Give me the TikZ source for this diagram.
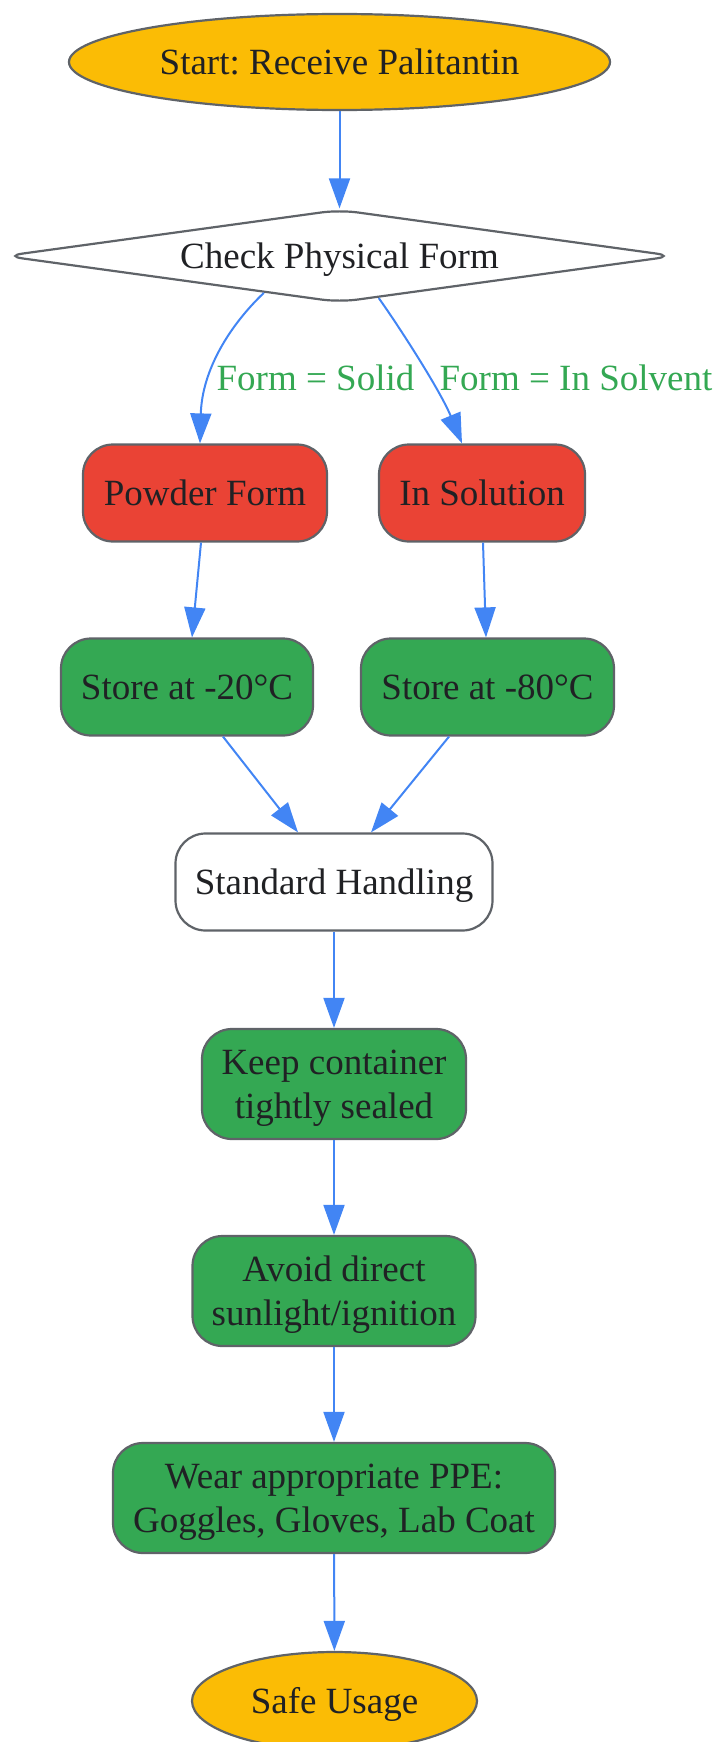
\documentclass[tikz,border=0pt]{standalone}
\usepackage{fontspec}
\setmainfont{Liberation Serif}
\usetikzlibrary{shapes.geometric,arrows.meta}
\frenchspacing

\definecolor{gold}{HTML}{FBBC05}
\definecolor{tomato}{HTML}{EA4335}
\definecolor{leaf}{HTML}{34A853}
\definecolor{sky}{HTML}{4285F4}
\definecolor{rim}{HTML}{5F6368}
\definecolor{ink}{HTML}{202124}

\begin{document}
\begin{tikzpicture}[x=1pt,y=-1pt,
  every node/.style={font=\fontsize{37}{44}\selectfont, text=ink, align=center},
  one/.style={text height=25pt, text depth=0pt},
  box/.style={draw=rim, line width=2.2pt, rounded corners=30pt, minimum height=97pt, inner sep=0pt},
  tall/.style={box, fill=leaf, minimum height=110pt, text depth=0pt},
  oval/.style={ellipse, draw=rim, line width=2.2pt, fill=gold, inner sep=0pt, one},
  flow/.style={draw=sky, line width=2pt, -{Triangle[length=30pt,width=21pt]}},
  cond/.style={text=leaf, one}]

\useasboundingbox (0,0) rectangle (717,1742);

\def\xc{334}

%Start and check
\node[oval, minimum width=541pt, minimum height=96pt] (start) at (339.5,62) {Start: Receive Palitantin};
\node[diamond, draw=rim, line width=2.2pt, fill=white, rounded corners=18pt, aspect=7.2, one,
      minimum width=670pt, minimum height=93pt, inner sep=0pt] (chk) at (339.5,256) {Check Physical Form};

%Forms
\node[box, one, fill=tomato, minimum width=244pt] (pow) at (205,493) {Powder Form};
\node[box, one, fill=tomato, minimum width=206pt] (sol) at (482,493) {In Solution};

%Storage
\node[box, one, fill=leaf, minimum width=252pt] (s20) at (187,687) {Store at -20°C};
\node[box, one, fill=leaf, minimum width=253pt] (s80) at (487.5,687) {Store at -80°C};

%Handling
\node[box, one, fill=white, minimum width=317pt] (std) at (\xc,882) {Standard Handling};
\node[tall, minimum width=264pt] (keep) at (\xc,1084) {Keep container\\tightly sealed};
\node[tall, minimum width=283pt] (avoid) at (\xc,1291) {Avoid direct\\sunlight/ignition};
\node[tall, minimum width=442pt] (ppe) at (\xc,1498) {Wear appropriate PPE:\\Goggles, Gloves, Lab Coat};
\node[oval, minimum width=285pt, minimum height=98pt] (safe) at (334.5,1701) {Safe Usage};

%Edges
\draw[flow] (start) -- (chk);
\draw[flow] (chk.206.6) .. controls (230,325) and (202,370) .. ([xshift=-5pt]pow.north);
\draw[flow] (chk.-47) .. controls (398,325) and (440,390) .. ([xshift=-20pt]sol.north);
\node[cond] (lsolid) at (315.5,378) {Form = Solid};
\node[cond] (lsolv) at (576,378) {Form = In Solvent};

\draw[flow] ([xshift=-4pt]pow.south) -- ([xshift=5pt]s20.north);
\draw[flow] ([xshift=1pt]sol.south) -- ([xshift=-1.5pt]s80.north);
\draw[flow] ([xshift=36pt]s20.south) -- ([xshift=-36pt]std.north);
\draw[flow] ([xshift=-38.5pt]s80.south) -- ([xshift=37pt]std.north);

\foreach \a/\b in {std/keep, keep/avoid, avoid/ppe, ppe/safe}
        \draw[flow] (\a) -- (\b);

\end{tikzpicture}
\end{document}
